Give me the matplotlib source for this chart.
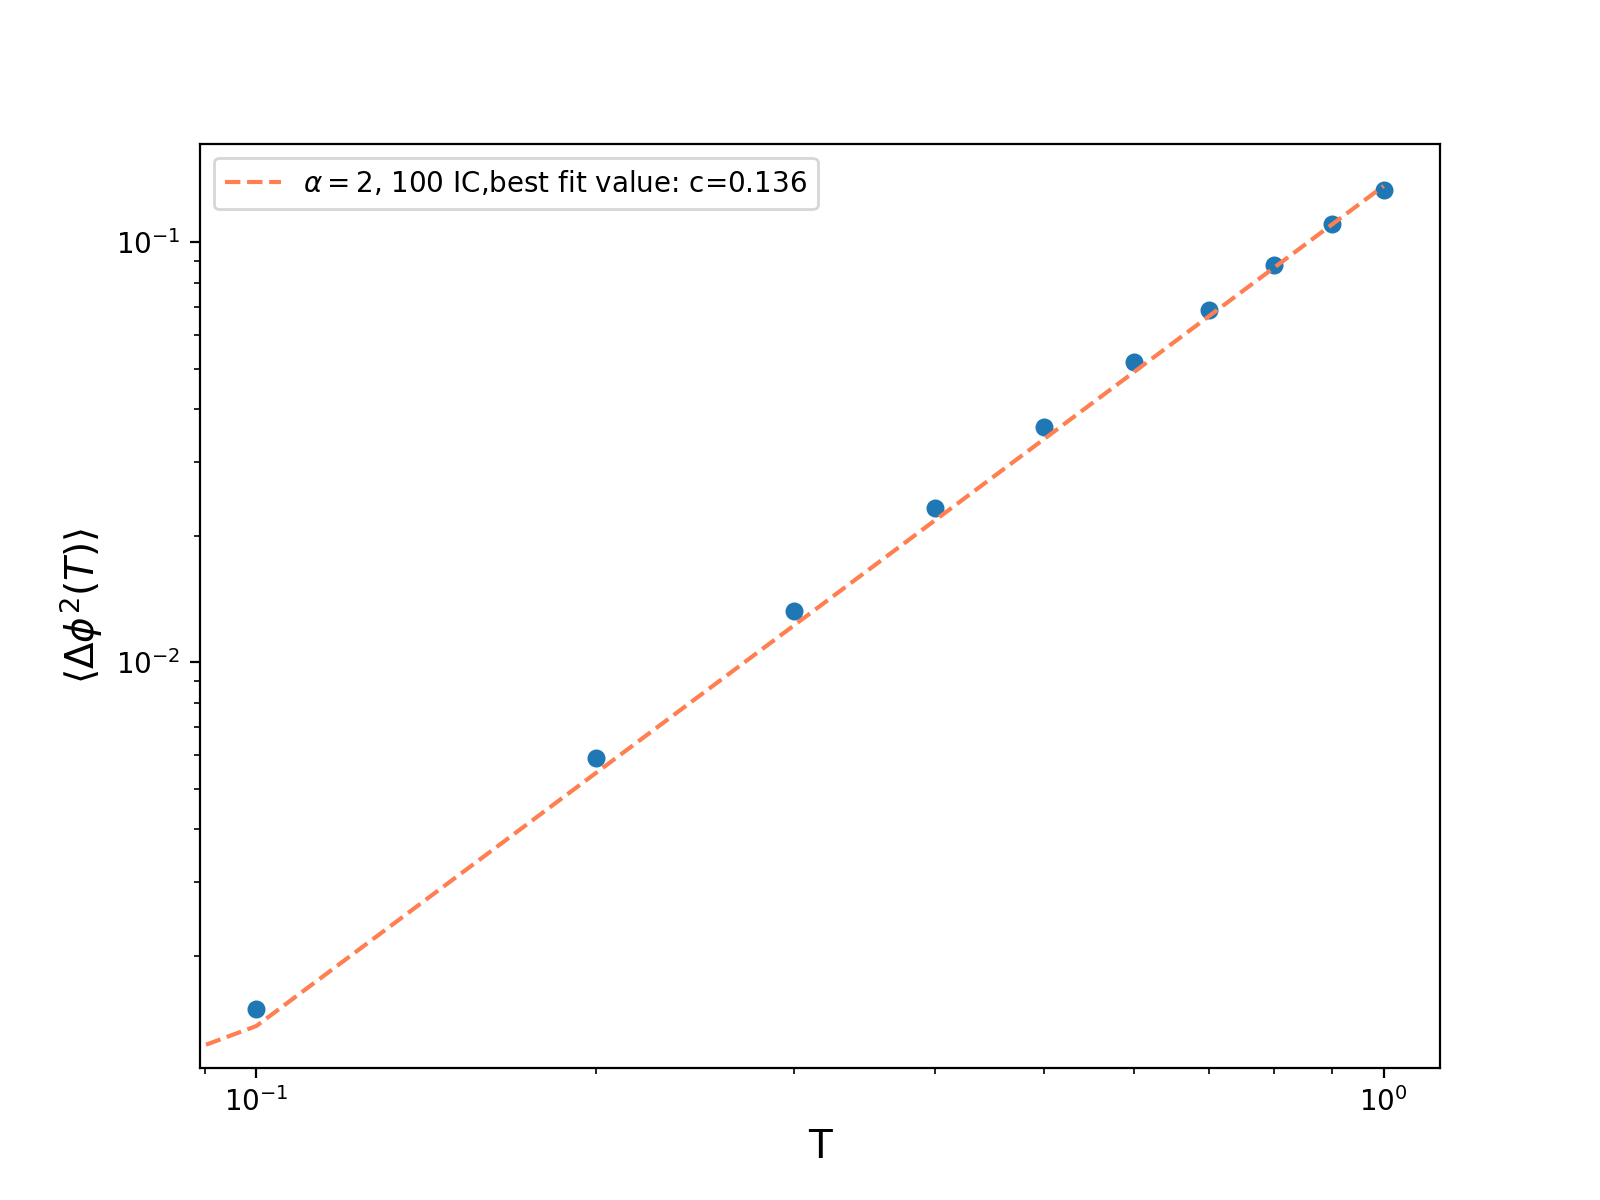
from matplotlib import pyplot as plt
import numpy as np

# Pontos medidos
T = [0.1, 0.2, 0.3, 0.4, 0.5, 0.6, 0.7, 0.8, 0.9, 1.0]
dphi2 = [0.001496, 0.005902, 0.01321, 0.02324, 0.03623,
         0.05174, 0.0688, 0.0884, 0.1103, 0.1333]

# Curva ajustada (inclui T=0)
T_fit = [0.0, 0.1, 0.2, 0.3, 0.4, 0.5, 0.6, 0.7, 0.8, 0.9, 1.0]
dphi2_fit = [0.0, 0.00136, 0.00544, 0.01224, 0.02176, 0.034,
             0.04896, 0.06664, 0.08704, 0.11016, 0.136]

plt.figure(figsize=(8, 6), dpi=200)
plt.scatter(T, dphi2, s=30, color='C0')
plt.plot(T_fit, dphi2_fit, '--', color='coral',
         label=r'$\alpha=2$, 100 IC,best fit value: c=0.136')
plt.xscale('log')
plt.yscale('log')
plt.xlabel('T', fontsize=14)
plt.ylabel(r'$\langle \Delta \phi^2(T) \rangle$', fontsize=14)
plt.legend(loc='upper left')
plt.savefig('out.png', dpi=200)
